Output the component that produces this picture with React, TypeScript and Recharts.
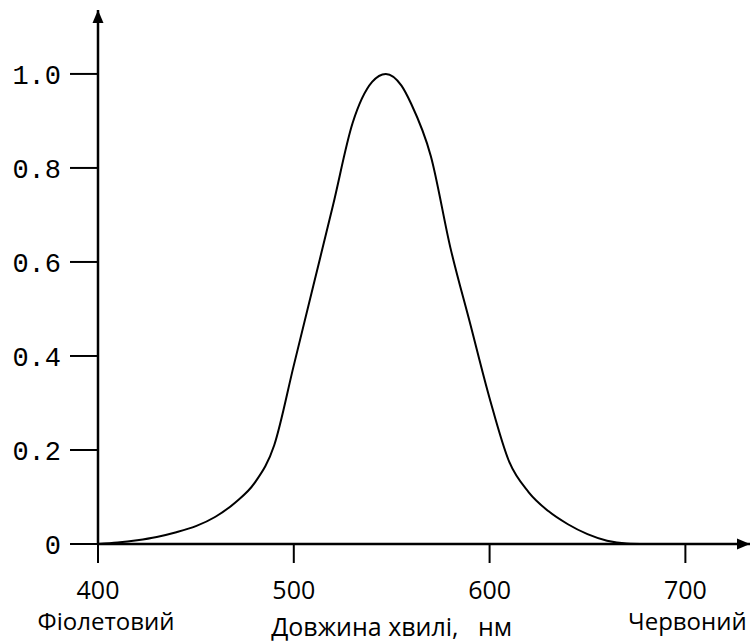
import React from "react";
import { LineChart, Line, XAxis, YAxis, ReferenceDot } from "recharts";

const wavelengths = [400, 410, 420, 430, 440, 450, 460, 470, 480, 490, 500, 510, 520, 530, 540, 547, 555, 560, 570, 580, 590, 600, 610, 620, 630, 640, 650, 660, 670, 680];
const sensitivity = [0, 0.003, 0.008, 0.015, 0.025, 0.038, 0.058, 0.088, 0.13, 0.21, 0.38, 0.55, 0.72, 0.895, 0.983, 1.0, 0.975, 0.936, 0.825, 0.63, 0.47, 0.31, 0.175, 0.11, 0.07, 0.042, 0.021, 0.007, 0.001, 0];

const xTicks = [400, 500, 600, 700];
const yTicks = [0, 0.2, 0.4, 0.6, 0.8, 1.0];
const xEndLabels: Record<number, string> = { 400: "Фіолетовий", 700: "Червоний" };
const xAxisTitle = "Довжина хвилі,   нм";

const X_MIN = 400;
const X_MAX = 733;
const Y_MAX = 1.136;

const data = wavelengths.map((w, i) => ({ w, v: sensitivity[i] }));

const sans = "'Open Sans', 'Liberation Sans', sans-serif";
const mono = "'Liberation Mono', 'DejaVu Sans Mono', monospace";

const XTick = (props: any) => {
  const { x, y, payload } = props;
  const v = payload.value as number;
  const extra = xEndLabels[v];
  return (
    <g>
      <text x={x} y={y + 36} textAnchor="middle" fontFamily={sans} fontSize={25} fill="#000">
        {String(v)}
      </text>
      {extra ? (
        <text
          x={x + (v === 400 ? 8 : 2)}
          y={y + 67}
          textAnchor="middle"
          fontFamily={sans}
          fontSize={24}
          fill="#000"
        >
          {extra}
        </text>
      ) : null}
    </g>
  );
};

const YTick = (props: any) => {
  const { x, y, payload } = props;
  const v = payload.value as number;
  return (
    <text x={x} y={y} dy="0.36em" textAnchor="end" fontFamily={mono} fontSize={27} fill="#000">
      {v === 0 ? "0" : v.toFixed(1)}
    </text>
  );
};

const AxisTitle = (props: any) => {
  const vb = props.viewBox || { x: 98, y: 544, width: 652, height: 100 };
  const cx = vb.x + (vb.width * (550 - X_MIN)) / (X_MAX - X_MIN);
  return (
    <text x={cx} y={vb.y + 92} textAnchor="middle" fontFamily={sans} fontSize={25} fill="#000" style={{ whiteSpace: "pre" }}>
      {xAxisTitle}
    </text>
  );
};

const RightArrow = (props: any) => {
  const { cx, cy } = props;
  return <path d={`M ${cx} ${cy} L ${cx - 13} ${cy - 5.5} L ${cx - 13} ${cy + 5.5} Z`} fill="#000" />;
};

const UpArrow = (props: any) => {
  const { cx, cy } = props;
  return <path d={`M ${cx} ${cy} L ${cx - 5.5} ${cy + 13} L ${cx + 5.5} ${cy + 13} Z`} fill="#000" />;
};

export default function App() {
  return (
    <div style={{ position: "absolute", left: 0, top: 0, width: 750, height: 644, background: "#fff" }}>
      <LineChart width={750} height={644} data={data} margin={{ top: 10, right: 0, left: 0, bottom: 0 }}>
        <XAxis
          dataKey="w"
          type="number"
          domain={[X_MIN, X_MAX]}
          ticks={xTicks}
          height={100}
          tickSize={19}
          tickMargin={0}
          axisLine={{ stroke: "#000", strokeWidth: 2.5 }}
          tickLine={{ stroke: "#000", strokeWidth: 2 }}
          tick={<XTick />}
          interval={0}
          allowDataOverflow
          label={<AxisTitle />}
        />
        <YAxis
          type="number"
          domain={[0, Y_MAX]}
          ticks={yTicks}
          width={98}
          tickSize={28}
          tickMargin={9}
          axisLine={{ stroke: "#000", strokeWidth: 2.5 }}
          tickLine={{ stroke: "#000", strokeWidth: 2 }}
          tick={<YTick />}
          interval={0}
          allowDataOverflow
        />
        <Line
          type="monotone"
          dataKey="v"
          stroke="#000"
          strokeWidth={2}
          dot={false}
          isAnimationActive={false}
        />
        <ReferenceDot x={X_MAX} y={0} ifOverflow="visible" shape={<RightArrow />} />
        <ReferenceDot x={X_MIN} y={Y_MAX} ifOverflow="visible" shape={<UpArrow />} />
      </LineChart>
    </div>
  );
}
